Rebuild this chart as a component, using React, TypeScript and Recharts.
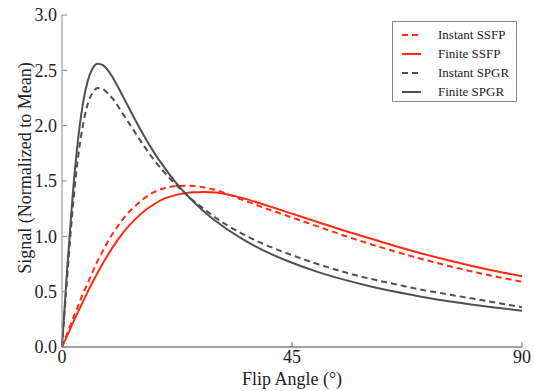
import React from 'react';
import { LineChart, Line, XAxis, YAxis, Legend, Label } from 'recharts';

const angles = [0, 1, 2, 3, 4, 5, 6, 7, 8, 9, 10, 12, 14, 16, 18, 20, 22, 25, 28, 30, 35, 40, 45, 50, 55, 60, 65, 70, 75, 80, 85, 90];
const instantSSFP = [0, 0.12, 0.24, 0.355, 0.47, 0.575, 0.68, 0.78, 0.87, 0.955, 1.03, 1.16, 1.26, 1.34, 1.40, 1.435, 1.452, 1.458, 1.44, 1.42, 1.335, 1.25, 1.17, 1.09, 1.01, 0.935, 0.865, 0.80, 0.74, 0.685, 0.635, 0.59];
const finiteSSFP = [0, 0.10, 0.204, 0.304, 0.40, 0.496, 0.587, 0.674, 0.757, 0.834, 0.907, 1.035, 1.14, 1.225, 1.29, 1.34, 1.37, 1.395, 1.40, 1.395, 1.35, 1.28, 1.205, 1.13, 1.055, 0.985, 0.915, 0.85, 0.79, 0.735, 0.685, 0.64];
const instantSPGR = [0, 0.62, 1.20, 1.66, 1.98, 2.19, 2.30, 2.34, 2.33, 2.29, 2.24, 2.10, 1.96, 1.82, 1.69, 1.58, 1.48, 1.35, 1.24, 1.17, 1.03, 0.92, 0.83, 0.75, 0.68, 0.62, 0.57, 0.52, 0.48, 0.44, 0.40, 0.36];
const finiteSPGR = [0, 0.697, 1.319, 1.816, 2.172, 2.398, 2.519, 2.56, 2.547, 2.499, 2.429, 2.258, 2.08, 1.911, 1.759, 1.623, 1.502, 1.346, 1.216, 1.141, 0.984, 0.86, 0.761, 0.679, 0.611, 0.552, 0.501, 0.457, 0.418, 0.385, 0.355, 0.328];

const xTicks = [0, 45, 90];
const yTicks = [0, 0.5, 1, 1.5, 2, 2.5, 3];
const seriesNames = ['Instant SSFP', 'Finite SSFP', 'Instant SPGR', 'Finite SPGR'];
const xTitle = 'Flip Angle (°)';
const yTitle = 'Signal (Normalized to Mean)';

const RED = '#ff2a12';
const GRAY = '#505050';
const FONT = '"Liberation Serif", "DejaVu Serif", serif';

const data = angles.map((a, i) => ({
  angle: a,
  iSSFP: instantSSFP[i],
  fSSFP: finiteSSFP[i],
  iSPGR: instantSPGR[i],
  fSPGR: finiteSPGR[i],
}));

const legendItems = [
  { name: seriesNames[0], color: RED, dash: '6 4' },
  { name: seriesNames[1], color: RED, dash: undefined },
  { name: seriesNames[2], color: GRAY, dash: '6 4' },
  { name: seriesNames[3], color: GRAY, dash: undefined },
];

const renderLegend = () => (
  <div
    style={{
      width: 125,
      height: 81,
      boxSizing: 'border-box',
      border: '1px solid #8a8a8a',
      background: '#fff',
      paddingTop: 3,
      fontFamily: FONT,
    }}
  >
    {legendItems.map((it) => (
      <div key={it.name} style={{ display: 'flex', alignItems: 'center', height: 19 }}>
        <svg width={45} height={10} style={{ flex: 'none' }}>
          <line x1={9} x2={28} y1={5} y2={5} stroke={it.color} strokeWidth={2} strokeDasharray={it.dash} />
        </svg>
        <span style={{ fontSize: 13, color: '#222', whiteSpace: 'nowrap' }}>{it.name}</span>
      </div>
    ))}
  </div>
);

export default function App() {
  return (
    <div style={{ position: 'absolute', left: 0, top: 0, width: 534, height: 391, background: '#fff', fontFamily: FONT }}>
      <LineChart width={534} height={391} data={data} margin={{ top: 15, right: 12, left: 0, bottom: 0 }}>
        <XAxis
          dataKey="angle"
          type="number"
          domain={[0, 90]}
          ticks={xTicks}
          height={44}
          stroke="#444"
          tickSize={-5}
          tickMargin={8}
          tick={{ fill: '#222', fontSize: 18, fontFamily: FONT }}
          tickLine={{ stroke: '#666' }}
        >
          <Label
            content={() => (
              <text x={292} y={385} textAnchor="middle" fontSize={18} fontFamily={FONT} fill="#222">
                {xTitle}
              </text>
            )}
          />
        </XAxis>
        <YAxis
          type="number"
          domain={[0, 3]}
          ticks={yTicks}
          width={62}
          stroke="#888"
          tickSize={-5}
          tickMargin={10}
          tickFormatter={(v: number) => v.toFixed(1)}
          tick={{ fill: '#222', fontSize: 18, fontFamily: FONT }}
          tickLine={{ stroke: '#888' }}
        >
          <Label
            content={() => (
              <text
                x={25}
                y={168}
                transform="rotate(-90 25 168)"
                textAnchor="middle"
                dominantBaseline="central"
                fontSize={18}
                fontFamily={FONT}
                fill="#222"
              >
                {yTitle}
              </text>
            )}
          />
        </YAxis>
        <Legend
          layout="vertical"
          align="center"
          verticalAlign="middle"
          content={renderLegend}
          wrapperStyle={{ position: 'absolute', left: 392, top: 21, width: 125, height: 81 }}
        />
        <Line type="monotone" dataKey="iSSFP" name={seriesNames[0]} stroke={RED} strokeWidth={2} strokeDasharray="6 4" dot={false} isAnimationActive={false} />
        <Line type="monotone" dataKey="fSSFP" name={seriesNames[1]} stroke={RED} strokeWidth={2} dot={false} isAnimationActive={false} />
        <Line type="monotone" dataKey="iSPGR" name={seriesNames[2]} stroke={GRAY} strokeWidth={2} strokeDasharray="6 4" dot={false} isAnimationActive={false} />
        <Line type="monotone" dataKey="fSPGR" name={seriesNames[3]} stroke={GRAY} strokeWidth={2} dot={false} isAnimationActive={false} />
      </LineChart>
    </div>
  );
}
